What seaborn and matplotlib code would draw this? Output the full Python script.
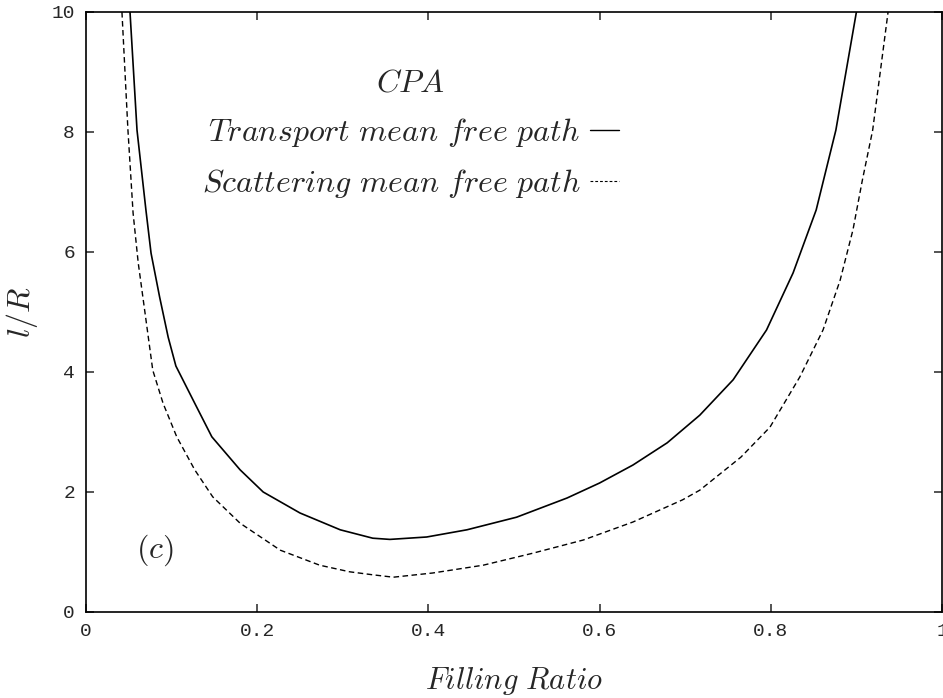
import matplotlib
matplotlib.use("Agg")
import matplotlib.pyplot as plt
import seaborn as sns
import pandas as pd

# Data
transport_x = [0.0514, 0.0596, 0.070, 0.076, 0.086, 0.096, 0.105, 0.127, 0.147, 0.180,
               0.207, 0.25, 0.297, 0.335, 0.355, 0.398, 0.445, 0.503, 0.562, 0.600,
               0.639, 0.679, 0.717, 0.756, 0.795, 0.826, 0.853, 0.876, 0.90]
transport_y = [10, 8.03, 6.7, 5.98, 5.25, 4.58, 4.1, 3.48, 2.92, 2.37,
               2.0, 1.65, 1.37, 1.23, 1.21, 1.25, 1.37, 1.58, 1.9, 2.15,
               2.45, 2.82, 3.28, 3.87, 4.7, 5.65, 6.7, 8.03, 10]

scatter_x = [0.042, 0.049, 0.055, 0.061, 0.069, 0.078, 0.09, 0.106, 0.127, 0.148,
             0.180, 0.227, 0.273, 0.308, 0.335, 0.359, 0.405, 0.464, 0.522, 0.581,
             0.639, 0.697, 0.717, 0.765, 0.799, 0.834, 0.861, 0.881, 0.896, 0.907,
             0.919, 0.937]
scatter_y = [10, 8.03, 6.65, 5.82, 4.98, 4.03, 3.48, 2.92, 2.37, 1.92,
             1.48, 1.03, 0.78, 0.67, 0.62, 0.58, 0.65, 0.78, 0.98, 1.2,
             1.5, 1.87, 2.03, 2.58, 3.08, 3.92, 4.7, 5.53, 6.37, 7.2,
             8.03, 10]

x_ticks = [0, 0.2, 0.4, 0.6, 0.8, 1]
x_tick_labels = ["0", "0.2", "0.4", "0.6", "0.8", "1"]
y_ticks = [0, 2, 4, 6, 8, 10]
y_tick_labels = ["0", "2", "4", "6", "8", "10"]

sns.set_style("ticks")
plt.rcParams["mathtext.fontset"] = "cm"
plt.rcParams["font.family"] = ["DejaVu Sans"]

fig = plt.figure(figsize=(9.43, 6.98), dpi=100)
ax = fig.add_axes([86 / 943, 86 / 698, 856 / 943, 600 / 698])

df_t = pd.DataFrame({"x": transport_x, "y": transport_y})
df_s = pd.DataFrame({"x": scatter_x, "y": scatter_y})

sns.lineplot(data=df_t, x="x", y="y", ax=ax, color="black", linewidth=1.2,
             label=r"$Transport\ mean\ free\ path$", sort=False)
sns.lineplot(data=df_s, x="x", y="y", ax=ax, color="black", linewidth=1.0,
             dashes=False, label=r"$Scattering\ mean\ free\ path$", sort=False)
ax.lines[1].set_dashes([4, 2.5])

ax.set_xlim(0, 1)
ax.set_ylim(0, 10)
ax.set_xticks(x_ticks)
ax.set_xticklabels(x_tick_labels, family="Liberation Mono", fontsize=14)
ax.set_yticks(y_ticks)
ax.set_yticklabels(y_tick_labels, family="Liberation Mono", fontsize=14)
ax.tick_params(direction="in", length=6, width=1.1, top=True, right=True, pad=8)
for s in ax.spines.values():
    s.set_linewidth(1.2)
    s.set_color("black")

ax.set_xlabel(r"$Filling\ Ratio$", fontsize=22, labelpad=18)
ax.set_ylabel(r"$l/R$", fontsize=23, labelpad=8)

ax.text(0.08, 1.03, r"$(c)$", fontsize=23, ha="center", va="center")

leg = ax.legend(loc="upper left", bbox_to_anchor=(0.135, 0.907), frameon=False,
                markerfirst=False, fontsize=23, title=r"$CPA$", title_fontsize=23,
                handlelength=0.9, handletextpad=0.3, labelspacing=0.55,
                borderaxespad=0, borderpad=0)
leg._legend_box.align = "center"
leg.get_lines()[0].set_linewidth(1.0)
leg.get_lines()[1].set_dashes([2.5, 1.8])
leg.get_lines()[1].set_linewidth(0.8)

fig.savefig("out.png", dpi=100)
